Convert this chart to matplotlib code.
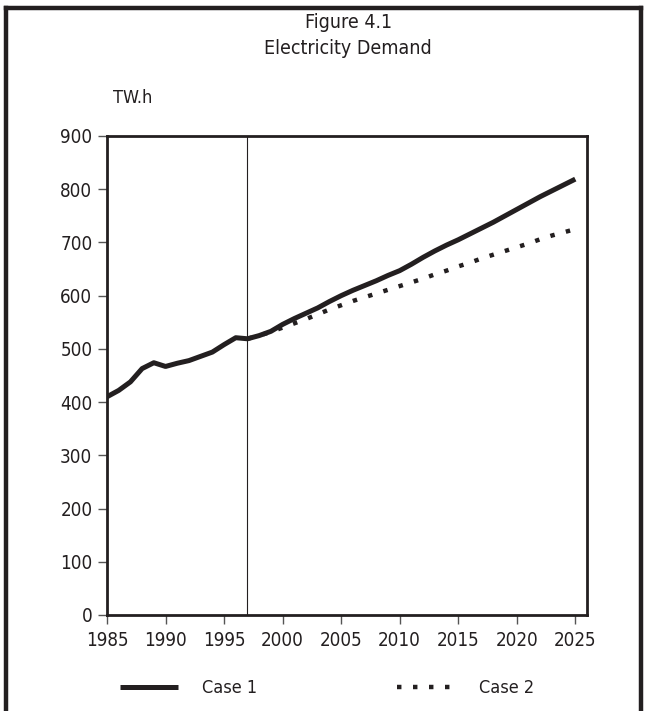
import matplotlib
matplotlib.use("Agg")
import matplotlib.pyplot as plt
from matplotlib.lines import Line2D
from matplotlib import font_manager

years1 = list(range(1985, 2026))
case1 = [410, 422, 438, 463, 474, 467, 473, 478, 486, 494, 508, 521, 519, 525, 533,
         546, 557, 567, 577, 589, 600, 610, 619, 628, 638, 647, 659, 672, 684, 695,
         705, 716, 727, 738, 750, 762, 774, 786, 797, 808, 819]
years2 = list(range(1997, 2026))
case2 = [519, 525, 532, 540, 548, 556, 565, 574, 582, 590, 597, 604, 611, 618, 625,
         632, 640, 647, 655, 662, 670, 677, 684, 691, 698, 706, 713, 719, 725]
xticks = list(range(1985, 2030, 5))
yticks = list(range(0, 1000, 100))
series_labels = ["Case 1", "Case 2"]
split_year = 1997

names = {f.name for f in font_manager.fontManager.ttflist}
fam = "Liberation Sans Narrow" if "Liberation Sans Narrow" in names else "DejaVu Sans"
plt.rcParams['font.family'] = [fam, 'DejaVu Sans']
if fam == "DejaVu Sans":
    plt.rcParams['font.stretch'] = 'condensed'

ink = "#231f20"
fig = plt.figure(figsize=(6.47, 7.11), dpi=100)
ax = fig.add_axes([107/647, 1 - 615/711, (587-107)/647, (615-136)/711])

l1, = ax.plot(years1, case1, color=ink, lw=3.6, solid_joinstyle='round', solid_capstyle='butt')
l2, = ax.plot(years2, case2, color=ink, lw=3.2, linestyle=(0, (1, 2.6)), dash_capstyle='butt')
ax.axvline(split_year, color=ink, lw=0.8)

ax.set_xlim(1985, 2026)
ax.set_ylim(0, 900)
ax.set_xticks(xticks)
ax.set_yticks(yticks)
ax.tick_params(axis='both', direction='out', length=6.5, width=1, color="#555555",
               labelsize=13.5, labelcolor=ink, pad=4)
ax.tick_params(axis='x', pad=5)
for s in ax.spines.values():
    s.set_linewidth(2.0)
    s.set_color(ink)

fig.text(0.538, 1 - 22/711, "Figure 4.1", ha='center', va='center', fontsize=14, color=ink)
fig.text(0.538, 1 - 48/711, "Electricity Demand", ha='center', va='center', fontsize=14, color=ink)
fig.text(113/647, 1 - 98/711, "TW.h", ha='left', va='center', fontsize=13, color=ink)

leg = fig.legend([l1, l2], series_labels, loc='center left', bbox_to_anchor=(104/647, 1 - 688/711),
                 ncol=2, frameon=False, fontsize=13, handlelength=3.2, handletextpad=1.35,
                 columnspacing=7.7)
for t in leg.get_texts():
    t.set_color(ink)

# outer frame (top, left, right)
fig.add_artist(Line2D([6/647, 6/647], [0, 1 - 8/711], transform=fig.transFigure, color=ink, lw=3.2))
fig.add_artist(Line2D([6/647, 641/647], [1 - 8/711, 1 - 8/711], transform=fig.transFigure, color=ink, lw=3.2))
fig.add_artist(Line2D([641/647, 641/647], [0, 1 - 8/711], transform=fig.transFigure, color=ink, lw=3.2))

fig.savefig("out.png", dpi=100)
